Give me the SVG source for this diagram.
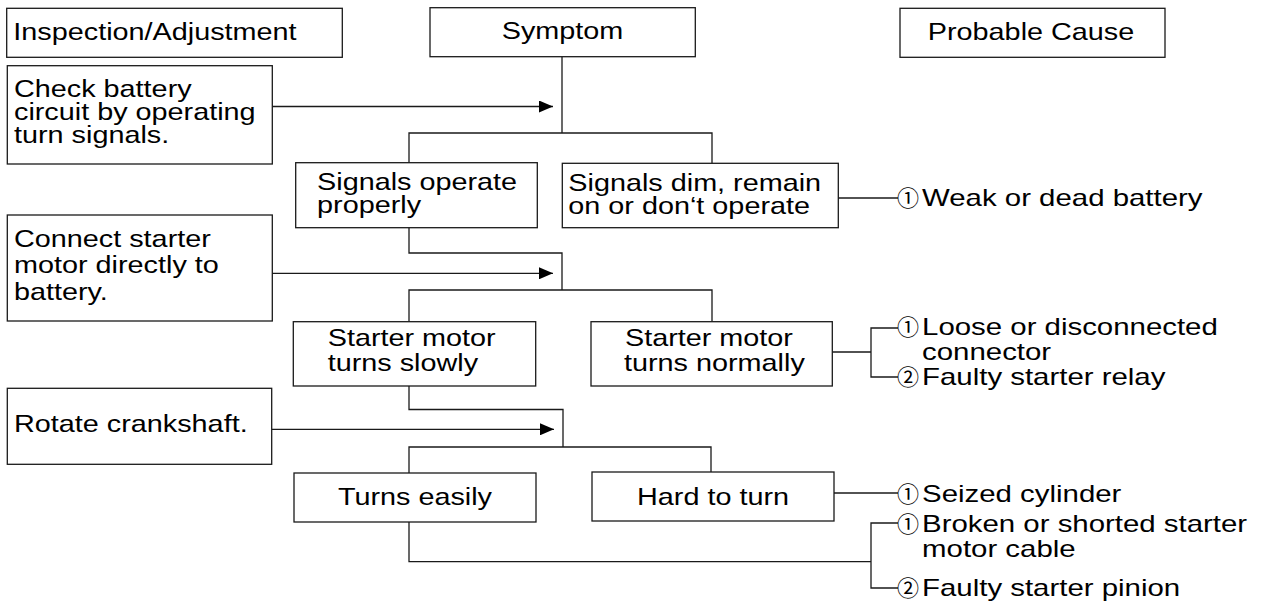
<svg xmlns="http://www.w3.org/2000/svg" width="1264" height="602" viewBox="0 0 1264 602">
<style>
.box{fill:#fff;stroke:#1a1a1a;stroke-width:1.3}
.ln{fill:none;stroke:#1a1a1a;stroke-width:1.3}
.t{font-family:"Liberation Sans",Arial,sans-serif;font-size:24px;fill:#000}
.m{text-anchor:middle}
.c{font-family:"Noto Sans CJK JP","Noto Sans CJK SC",sans-serif;font-size:22px;fill:#000}
</style>
<defs>
<marker id="ah" markerUnits="userSpaceOnUse" markerWidth="14" markerHeight="12" refX="14" refY="6" orient="auto">
<path d="M0,0 L14,6 L0,12 Z" fill="#000"/>
</marker>
</defs>
<rect width="1264" height="602" fill="#fff"/>
<g id="connectors">
<path class="ln" d="M562,57 V133 M409,163 V133 H712 V163"/>
<path class="ln" d="M272,106.5 H553" marker-end="url(#ah)"/>
<path class="ln" d="M838,198 H898"/>
<path class="ln" d="M409,228 V253 H562 V290 M409,321.7 V290 H712 V321.7"/>
<path class="ln" d="M272,273.3 H553" marker-end="url(#ah)"/>
<path class="ln" d="M832.3,352 H871 M898,328 H871 V377 H898"/>
<path class="ln" d="M409,386 V409.5 H563 V447 M409,473 V447 H711 V472"/>
<path class="ln" d="M272,429.3 H554" marker-end="url(#ah)"/>
<path class="ln" d="M834,493 H898"/>
<path class="ln" d="M409,522 V561.7 H871 M898,523 H871 V588 H898"/>
</g>
<g id="h-inspection">
<rect class="box" x="6.7" y="8.3" width="335.6" height="49"/>
<text class="t" transform="scale(1.2 1)" x="11.1" y="40">Inspection/Adjustment</text>
</g>
<g id="h-symptom">
<rect class="box" x="430" y="7.7" width="265.3" height="49"/>
<text class="t m" transform="scale(1.2 1)" x="468.75" y="39.5">Symptom</text>
</g>
<g id="h-cause">
<rect class="box" x="900" y="8.3" width="265" height="49"/>
<text class="t m" transform="scale(1.2 1)" x="859.2" y="40">Probable Cause</text>
</g>
<g id="check-battery">
<rect class="box" x="7.3" y="65.7" width="265" height="98.3"/>
<text class="t" transform="scale(1.2 1)" y="97"><tspan x="11.67">Check battery</tspan><tspan x="11.67" y="120">circuit by operating</tspan><tspan x="11.67" y="143">turn signals.</tspan></text>
</g>
<g id="signals-ok">
<rect class="box" x="295.7" y="162.7" width="241.6" height="65"/>
<text class="t" transform="scale(1.2 1)" y="190"><tspan x="264.2">Signals operate</tspan><tspan x="264.2" y="213">properly</tspan></text>
</g>
<g id="signals-dim">
<rect class="box" x="562.3" y="163.3" width="276" height="64.4"/>
<text class="t" transform="scale(1.2 1)" y="191"><tspan x="473.6">Signals dim, remain</tspan><tspan x="473.6" y="214.5">on or don‘t operate</tspan></text>
</g>
<g id="cause-battery">
<text class="c" x="897" y="206">①</text>
<text class="t" transform="scale(1.225 1)" x="752.7" y="206">Weak or dead battery</text>
</g>
<g id="connect-starter">
<rect class="box" x="7.3" y="215" width="265" height="106"/>
<text class="t" transform="scale(1.2 1)" y="246.7"><tspan x="11.67">Connect starter</tspan><tspan x="11.67" y="273.3">motor directly to</tspan><tspan x="11.67" y="300.5">battery.</tspan></text>
</g>
<g id="starter-slow">
<rect class="box" x="293.3" y="321.7" width="242.4" height="64.3"/>
<text class="t" transform="scale(1.2 1)" y="346"><tspan x="273.1">Starter motor</tspan><tspan x="273.1" y="371">turns slowly</tspan></text>
</g>
<g id="starter-normal">
<rect class="box" x="591" y="321.7" width="241.3" height="64.3"/>
<text class="t" transform="scale(1.2 1)" y="346"><tspan x="520.8">Starter motor</tspan><tspan x="520" y="371">turns normally</tspan></text>
</g>
<g id="cause-relay">
<text class="c" x="897" y="335">①</text>
<text class="t" transform="scale(1.225 1)" y="335"><tspan x="752.7">Loose or disconnected</tspan><tspan x="752.7" y="360">connector</tspan></text>
<text class="c" x="897" y="385">②</text>
<text class="t" transform="scale(1.225 1)" x="752.7" y="385">Faulty starter relay</text>
</g>
<g id="rotate-crank">
<rect class="box" x="7.3" y="388.3" width="264.4" height="76"/>
<text class="t" transform="scale(1.2 1)" x="11.67" y="432">Rotate crankshaft.</text>
</g>
<g id="turns-easily">
<rect class="box" x="294" y="473" width="242" height="49"/>
<text class="t m" transform="scale(1.2 1)" x="345.8" y="505">Turns easily</text>
</g>
<g id="hard-turn">
<rect class="box" x="592" y="472" width="242" height="49"/>
<text class="t m" transform="scale(1.2 1)" x="594.2" y="505">Hard to turn</text>
</g>
<g id="cause-seized">
<text class="c" x="897" y="502">①</text>
<text class="t" transform="scale(1.225 1)" x="752.7" y="502">Seized cylinder</text>
</g>
<g id="cause-pinion">
<text class="c" x="897" y="532">①</text>
<text class="t" transform="scale(1.225 1)" y="532"><tspan x="752.7">Broken or shorted starter</tspan><tspan x="752.7" y="557">motor cable</tspan></text>
<text class="c" x="897" y="596">②</text>
<text class="t" transform="scale(1.225 1)" x="752.7" y="596">Faulty starter pinion</text>
</g>
</svg>
